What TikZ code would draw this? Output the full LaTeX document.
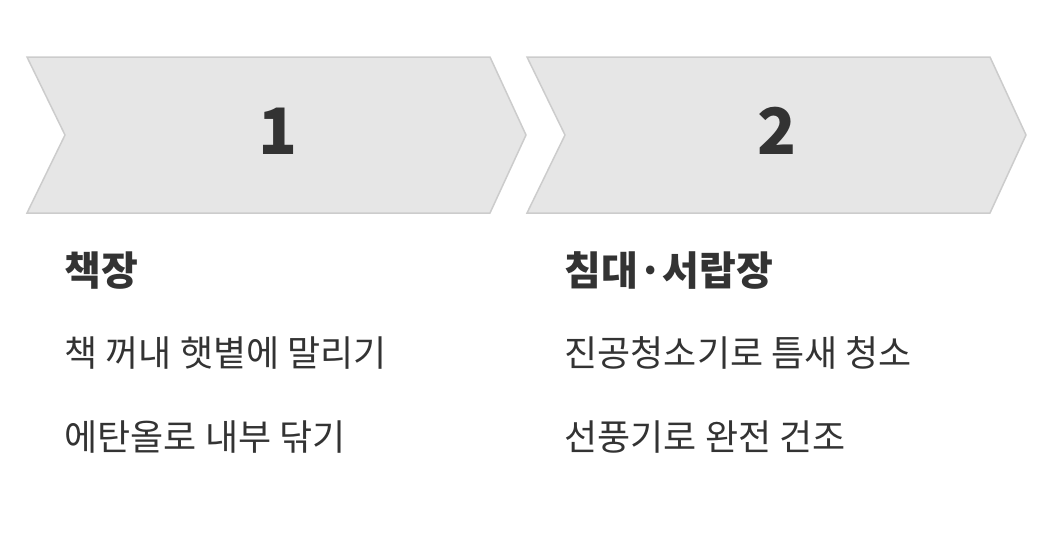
\documentclass[tikz,border=0pt]{standalone}
\usepackage{fontspec}
\setmainfont{Noto Sans CJK KR}[BoldFont={Noto Sans CJK KR Black}]
\definecolor{chev}{HTML}{E6E6E6}
\definecolor{chevline}{HTML}{CCCCCC}
\definecolor{ink}{HTML}{333333}
\begin{document}
\begin{tikzpicture}[x=1pt,y=-1pt,
  chevron/.style={fill=chev,draw=chevline,line width=1.5pt,line join=miter},
  num/.style={font=\fontsize{64}{64}\selectfont\bfseries,text=ink},
  ttl/.style={font=\fontsize{40}{40}\selectfont\bfseries,text=ink,anchor=west},
  itm/.style={font=\fontsize{36}{36}\selectfont,text=ink,anchor=west}]
\useasboundingbox (0,0) rectangle (1044,558);
\draw[chevron] (27,57) -- (490,57) -- (526,135) -- (490,213) -- (27,213) -- (65,135) -- cycle;
\draw[chevron] (527,57) -- (990,57) -- (1026,135) -- (990,213) -- (527,213) -- (565,135) -- cycle;
\node[num] (n1) at (278,131) {1};
\node[num] (n2) at (777,131) {2};
\node[ttl] (t1) at (61,271) {책장};
\node[ttl] (t2) at (561,271) {침대·서랍장};
\node[itm] (a1) at (61,353) {책 꺼내 햇볕에 말리기};
\node[itm] (a2) at (61,437) {에탄올로 내부 닦기};
\node[itm] (b1) at (561,353) {진공청소기로 틈새 청소};
\node[itm] (b2) at (561,437) {선풍기로 완전 건조};
\end{tikzpicture}
\end{document}
